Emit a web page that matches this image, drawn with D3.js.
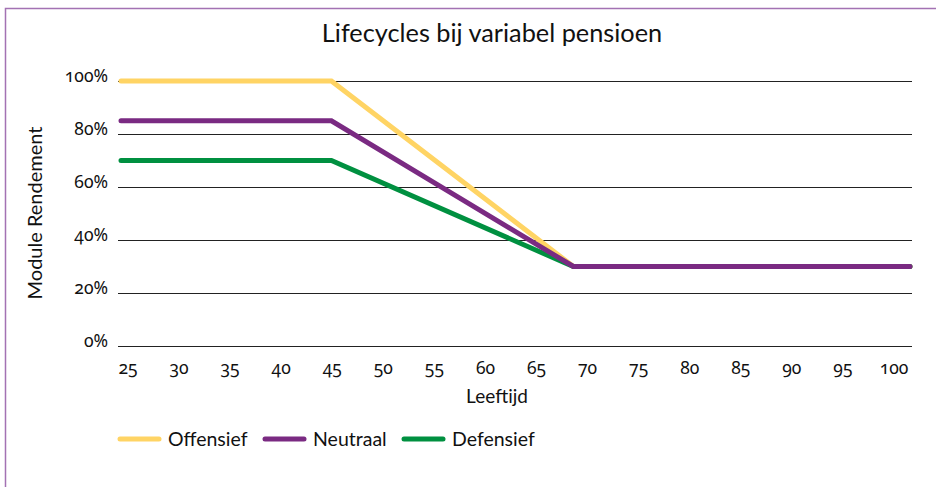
<!DOCTYPE html>
<html>
<head>
<meta charset="utf-8">
<script src="https://cdn.jsdelivr.net/npm/d3@7"></script>
<style>
  html, body { margin: 0; padding: 0; background: #fff; }
  svg { display: block; }
  .num { font-family: "Noto Sans", "Open Sans", sans-serif; font-feature-settings: "onum" 1; font-variant-numeric: oldstyle-nums; }
</style>
</head>
<body>
<svg id="chart" width="936" height="487"></svg>
<script>
// ---- data ----
const ages = [25, 45, 68, 100];
const offensief = [100, 100, 30, 30];
const neutraal = [85, 85, 30, 30];
const defensief = [70, 70, 30, 30];
const xTickLabels = [25, 30, 35, 40, 45, 50, 55, 60, 65, 70, 75, 80, 85, 90, 95, 100];
const yTickValues = [0, 20, 40, 60, 80, 100];
const seriesNames = ["Offensief", "Neutraal", "Defensief"];
const seriesColors = ["#FFD464", "#7A2A82", "#009040"];

const svg = d3.select("#chart");

// frame
svg.append("rect").attr("x", 5.5).attr("y", 8.5).attr("width", 1000).attr("height", 1000)
  .attr("fill", "none").attr("stroke", "#A372B3").attr("stroke-width", 1.5);

const x = d3.scaleLinear().domain([25, 100]).range([121, 910]);
const xLab = d3.scalePoint().domain(xTickLabels).range([128, 894]);
const y = d3.scaleLinear().domain([0, 100]).range([346, 81]);

// gridlines
svg.append("g").selectAll("line").data(yTickValues).join("line")
  .attr("x1", 118).attr("x2", 912)
  .attr("y1", d => Math.round(y(d)) + 0.5).attr("y2", d => Math.round(y(d)) + 0.5)
  .attr("stroke", "#222").attr("stroke-width", 1);

// y tick labels
svg.append("g").selectAll("text").data(yTickValues).join("text")
  .attr("class", "num")
  .attr("x", 108).attr("y", d => y(d) + 1)
  .attr("text-anchor", "end")
  .attr("font-size", 17.5).attr("fill", "#111")
  .text(d => d + "%");

// x tick labels
svg.append("g").selectAll("text").data(xTickLabels).join("text")
  .attr("class", "num")
  .attr("x", d => xLab(d)).attr("y", 374)
  .attr("text-anchor", "middle")
  .attr("font-size", 17.5).attr("fill", "#111")
  .text(d => d);

// title
svg.append("text").attr("x", 492).attr("y", 42).attr("text-anchor", "middle")
  .attr("font-family", "Lato, 'Open Sans', sans-serif")
  .attr("font-size", 25.3).attr("fill", "#111")
  .text("Lifecycles bij variabel pensioen");

// axis titles
svg.append("text").attr("x", 497).attr("y", 403).attr("text-anchor", "middle")
  .attr("font-family", "Lato, 'Open Sans', sans-serif")
  .attr("font-size", 19).attr("fill", "#111")
  .text("Leeftijd");

svg.append("text").attr("transform", "translate(42,213) rotate(-90)")
  .attr("text-anchor", "middle")
  .attr("font-family", "Lato, 'Open Sans', sans-serif")
  .attr("font-size", 20).attr("fill", "#111")
  .text("Module Rendement");

// lines
const seriesData = [offensief, neutraal, defensief];
const line = d3.line().x(d => x(d[0])).y(d => y(d[1]));
const drawOrder = [0, 2, 1];
svg.append("g").selectAll("path").data(drawOrder).join("path")
  .attr("d", i => line(ages.map((a, k) => [a, seriesData[i][k]])))
  .attr("fill", "none")
  .attr("stroke", i => seriesColors[i])
  .attr("stroke-width", 5)
  .attr("stroke-linecap", "round")
  .attr("stroke-linejoin", "miter");

// legend
const legX = [120, 265, 404];
const lg = svg.append("g").selectAll("g").data(seriesNames).join("g")
  .attr("transform", (d, i) => `translate(${legX[i]},439)`);
lg.append("line").attr("x1", 0).attr("x2", 39).attr("y1", 0).attr("y2", 0)
  .attr("stroke", (d, i) => seriesColors[i]).attr("stroke-width", 5).attr("stroke-linecap", "round");
lg.append("text").attr("x", 48).attr("y", 7)
  .attr("font-family", "Lato, 'Open Sans', sans-serif")
  .attr("font-size", 19.5).attr("fill", "#111")
  .text(d => d);
</script>
</body>
</html>
